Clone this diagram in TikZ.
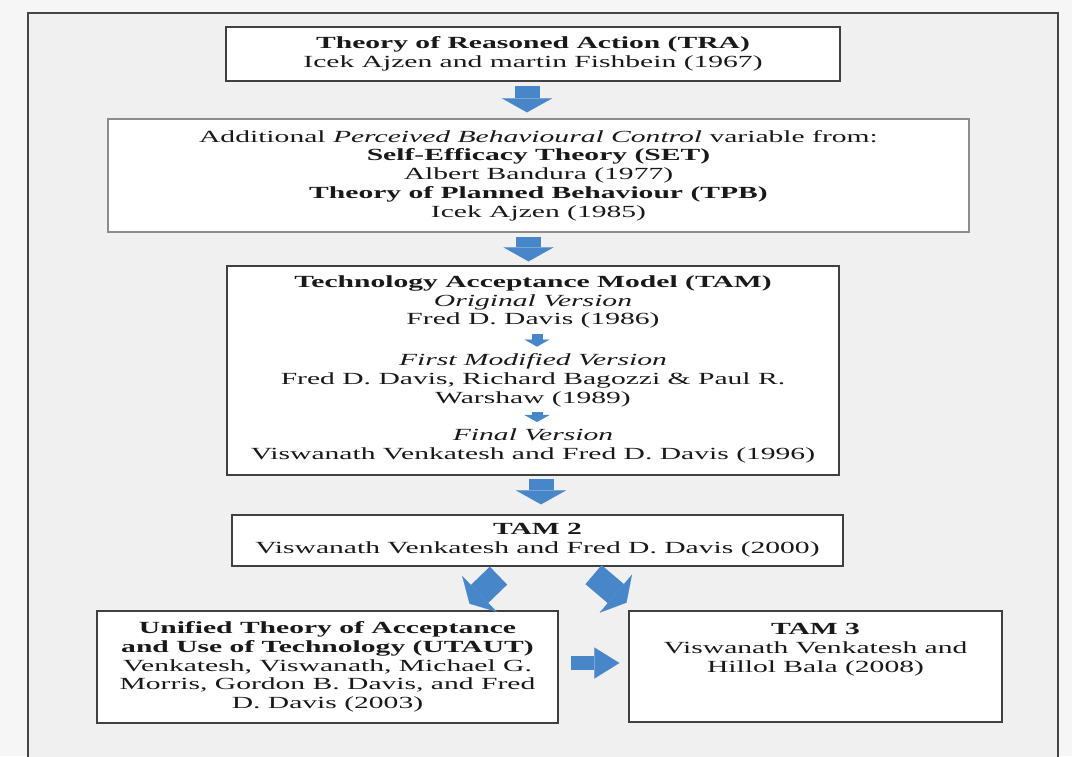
\documentclass[tikz,border=0pt]{standalone}
\usepackage{fontspec}
\setmainfont{Liberation Serif}[FakeStretch=1.74]
\usetikzlibrary{arrows.meta, positioning, calc}

\definecolor{arrowblue}{RGB}{72,134,202}
\definecolor{pagegray}{RGB}{240,240,241}
\definecolor{outergray}{RGB}{246,246,246}
\definecolor{framegray}{RGB}{70,70,70}

\tikzset{
  box/.style={draw=black!75, line width=1.3pt, fill=white, align=center, inner sep=0pt,
    text=black!90, font={\fontsize{17}{18.7}\selectfont}},
  txt/.style={align=center, inner sep=0pt, text=black!90, font={\fontsize{17}{18.7}\selectfont}},
  bigarrow/.style={draw=arrowblue, line width=25pt,
    -{Triangle[length=14pt, width=50pt, line width=0.1pt]}},
  sidearrow/.style={draw=arrowblue, line width=14pt,
    -{Triangle[length=25pt, width=31pt, line width=0.1pt]}},
  smallarrow/.style={draw=arrowblue, line width=11pt,
    -{Triangle[length=7pt, width=25pt, line width=0.1pt]}}
}

\begin{document}
\begin{tikzpicture}[x=1pt, y=-1pt]
  \fill[outergray] (0,0) rectangle (1072,756);
  \useasboundingbox (0,0) rectangle (1072,756);
  \draw[framegray, line width=2pt, fill=pagegray] (28,13) rectangle (1058,790);

  % boxes
  \node[box, minimum width=614pt, minimum height=54pt] (tra) at (533,54)
    {\textbf{Theory of Reasoned Action (TRA)}\\Icek Ajzen and martin Fishbein (1967)};
  \node[box, draw=black!45, minimum width=861pt, minimum height=113pt] (tpb) at (538.5,175.5)
    {Additional \textit{Perceived Behavioural Control} variable from:\\
     \textbf{Self-Efficacy Theory (SET)}\\Albert Bandura (1977)\\
     \textbf{Theory of Planned Behaviour (TPB)}\\Icek Ajzen (1985)};
  \node[box, minimum width=612pt, minimum height=209pt] (tam) at (533,370.5) {};
  \node[txt, below=10pt of tam.north] (tamorig)
    {\textbf{Technology Acceptance Model (TAM)}\\\textit{Original Version}\\Fred D. Davis (1986)};
  \node[txt, below=25pt of tamorig] (tamfirst)
    {\textit{First Modified Version}\\Fred D. Davis, Richard Bagozzi \& Paul R.\\Warshaw (1989)};
  \node[txt, below=22pt of tamfirst] (tamfinal)
    {\textit{Final Version}\\Viswanath Venkatesh and Fred D. Davis (1996)};
  \node[box, minimum width=611pt, minimum height=51pt] (tamtwo) at (537.5,540.5)
    {\textbf{TAM 2}\\Viswanath Venkatesh and Fred D. Davis (2000)};
  \node[box, minimum width=461pt, minimum height=112pt] (utaut) at (327.5,667)
    {\textbf{Unified Theory of Acceptance}\\\textbf{and Use of Technology (UTAUT)}\\
     Venkatesh, Viswanath, Michael G.\\Morris, Gordon B. Davis, and Fred\\D. Davis (2003)};
  \node[box, minimum width=373pt, minimum height=111pt] (tamthree) at (815.5,666.5) {};
  \node[txt, below=13pt of tamthree.north] (tamthreetxt)
    {\textbf{TAM 3}\\Viswanath Venkatesh and\\Hillol Bala (2008)};

  % arrows
  \draw[bigarrow, shorten <=4pt, shorten >=6pt] ([xshift=-6pt]tra.south) -- ([xshift=-6pt]tra.south |- tpb.north);
  \draw[bigarrow, shorten <=4pt, shorten >=4pt] ([xshift=-10pt]tpb.south) -- ([xshift=-10pt]tpb.south |- tam.north);
  \draw[bigarrow, shorten <=3pt, shorten >=10pt] ([xshift=8pt]tam.south) -- ([xshift=8pt]tam.south |- tamtwo.north);
  \draw[smallarrow, shorten <=5pt, shorten >=7pt] ([xshift=4pt]tamorig.south) -- ([xshift=4pt]tamorig.south |- tamfirst.north);
  \draw[smallarrow, shorten <=5pt, shorten >=7pt] ([xshift=4pt]tamfirst.south) -- ([xshift=4pt]tamfirst.south |- tamfinal.north);
  \draw[bigarrow] ($(tamtwo.south)+(-39,9)$) -- ($(tamtwo.south)+(-68,37)$);
  \draw[bigarrow] ($(tamtwo.south)+(56,8)$) -- ($(tamtwo.south)+(89,36)$);
  \coordinate (sidestart) at ($(utaut.east)+(0,-4)$);
  \draw[sidearrow, shorten <=12pt, shorten >=9pt] (sidestart) -- (sidestart -| tamthree.west);
\end{tikzpicture}
\end{document}
